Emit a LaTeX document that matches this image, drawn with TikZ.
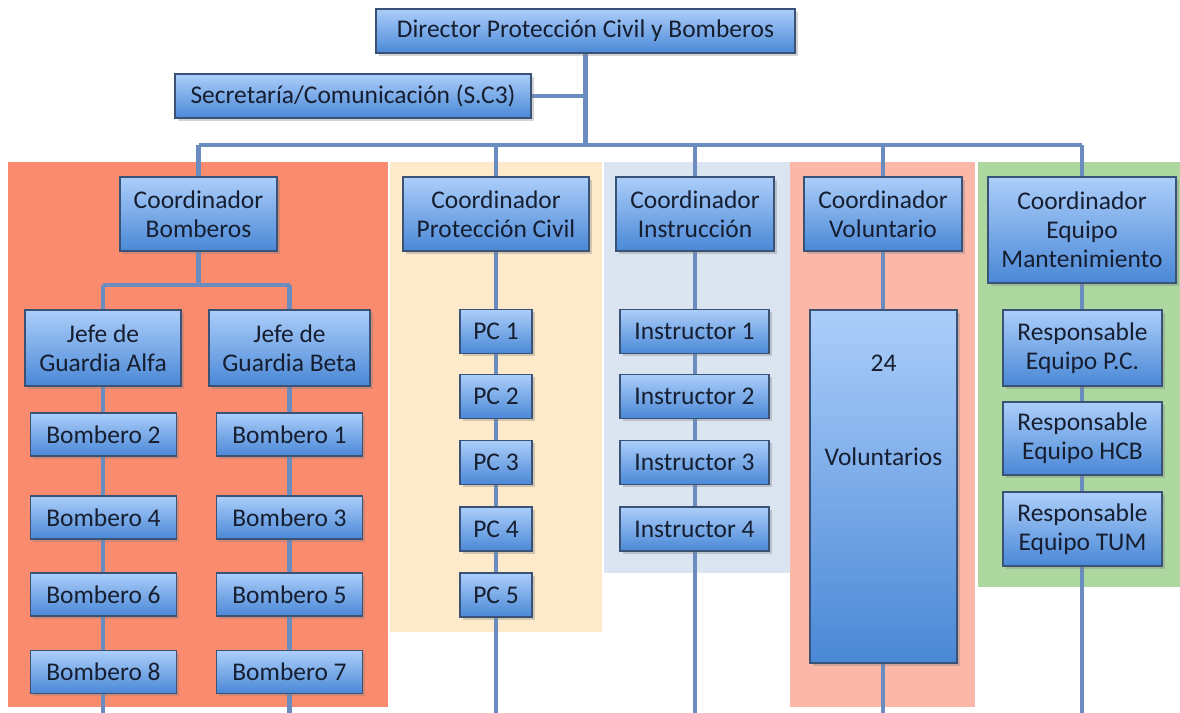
\documentclass[tikz,border=0pt]{standalone}
\usepackage{fontspec}
\setmainfont{Carlito}
\usepackage{xcolor}
\usepackage{tikz}
\usetikzlibrary{shadows,backgrounds}
\definecolor{boxtop}{RGB}{172,206,250}
\definecolor{boxbot}{RGB}{74,136,214}
\definecolor{boxline}{RGB}{58,82,118}
\definecolor{linkblue}{RGB}{106,140,190}
\definecolor{textnavy}{RGB}{22,30,48}
\definecolor{bgred}{RGB}{250,139,110}
\definecolor{bgyellow}{RGB}{253,234,203}
\definecolor{bglightblue}{RGB}{219,229,241}
\definecolor{bgsalmon}{RGB}{251,184,168}
\definecolor{bggreen}{RGB}{172,216,160}

\begin{document}
\begin{tikzpicture}[x=0.02cm, y=-0.02cm]
    \tikzstyle{unit} = [rectangle, draw=boxline, line width=0.7pt, top color=boxtop, bottom color=boxbot, text=textnavy, align=center, inner sep=1pt, font=\fontsize{14.5}{16.5}\selectfont, drop shadow={opacity=0.35, shadow xshift=1.6pt, shadow yshift=-1.6pt}]
    \tikzstyle{coord} = [unit, minimum height=1.48cm]
    \tikzstyle{small} = [unit, minimum height=0.88cm]
    \tikzstyle{conn} = [draw=linkblue, line width=2.5pt]
    \useasboundingbox (0,0) rectangle (1180,713);
    \coordinate (bus) at (0,145);
    \coordinate (subbus) at (0,285);
    \coordinate (bot) at (0,713);

    % Panels
    \begin{scope}[on background layer]
        \fill [bgred] (8,162) rectangle (388,707);
        \fill [bgyellow] (390,162) rectangle (602,632);
        \fill [bglightblue] (604,162) rectangle (790,573);
        \fill [bgsalmon] (790,162) rectangle (975,707);
        \fill [bggreen] (978,162) rectangle (1180,587);
    \end{scope}

    % Top
    \node [small, minimum width=8.38cm] (dir) at (585.5,31) {Director Protección Civil y Bomberos};
    \node [small, minimum width=7.12cm] (sec) at (353,96) {Secretaría/Comunicación (S.C3)};

    % Coordinators
    \node [coord, minimum width=3.14cm] (cbom) at (198.5,214) {Coordinador\\Bomberos};
    \node [coord, minimum width=3.72cm] (cpc) at (496,214) {Coordinador\\Protección Civil};
    \node [coord, minimum width=3.16cm] (cins) at (695,214) {Coordinador\\Instrucción};
    \node [coord, minimum width=3.16cm] (cvol) at (883,214) {Coordinador\\Voluntario};
    \node [unit, minimum width=3.76cm, minimum height=2.12cm] (ceq) at (1082,230) {Coordinador\\Equipo\\Mantenimiento};

    % Bomberos
    \node [unit, minimum width=3.12cm, minimum height=1.52cm] (jalfa) at (103,348) {Jefe de\\Guardia Alfa};
    \node [unit, minimum width=3.22cm, minimum height=1.52cm] (jbeta) at (289.5,348) {Jefe de\\Guardia Beta};
    \foreach \l/\r/\y in {2/1/434.5, 4/3/517.5, 6/5/594.5, 8/7/672}{
        \node [unit, minimum width=2.92cm, minimum height=0.86cm] (bom\l) at (103.5,\y) {Bombero \l};
        \node [unit, minimum width=2.92cm, minimum height=0.86cm] (bom\r) at (289.5,\y) {Bombero \r};
    }

    % Proteccion civil / instruccion
    \foreach \i/\y in {1/331.5, 2/396.5, 3/462.5, 4/529, 5/595}
        \node [small, minimum width=1.44cm] (pc\i) at (496,\y) {PC \i};
    \foreach \i/\y in {1/331.5, 2/396.5, 3/462.5, 4/529}
        \node [small, minimum width=2.98cm] (ins\i) at (694.5,\y) {Instructor \i};

    % Voluntarios
    \node [unit, inner sep=0pt, minimum width=2.94cm] (vol) at (883.5,486.5) {\parbox[t][7.06cm][t]{2.9cm}{\centering\vspace{0.9cm}24\\[1.3cm]Voluntarios}};

    % Equipo
    \node [unit, minimum width=3.18cm, minimum height=1.52cm] (resp1) at (1082.5,348) {Responsable\\Equipo P.C.};
    \node [unit, minimum width=3.18cm, minimum height=1.46cm] (resp2) at (1082.5,438.5) {Responsable\\Equipo HCB};
    \node [unit, minimum width=3.18cm, minimum height=1.48cm] (resp3) at (1082.5,529) {Responsable\\Equipo TUM};

    % Lines
    \begin{scope}[on background layer]
        \draw [conn] (dir.south) -- (dir |- bus);
        \draw [conn] (sec.east) -- (dir |- sec);
        \draw [conn] (cbom |- bus) -- (ceq |- bus);
        \foreach \c in {cbom, cpc, cins, cvol, ceq}
            \draw [conn] (\c |- bus) -- (\c.north);
        \draw [conn] (cbom.south) -- (cbom |- subbus);
        \draw [conn] (jalfa |- subbus) -- (jbeta |- subbus);
        \draw [conn] (jalfa |- subbus) -- (jalfa |- bot);
        \draw [conn] (jbeta |- subbus) -- (jbeta |- bot);
        \foreach \c in {cpc, cins, cvol, ceq}
            \draw [conn] (\c.south) -- (\c |- bot);
    \end{scope}
\end{tikzpicture}
\end{document}
